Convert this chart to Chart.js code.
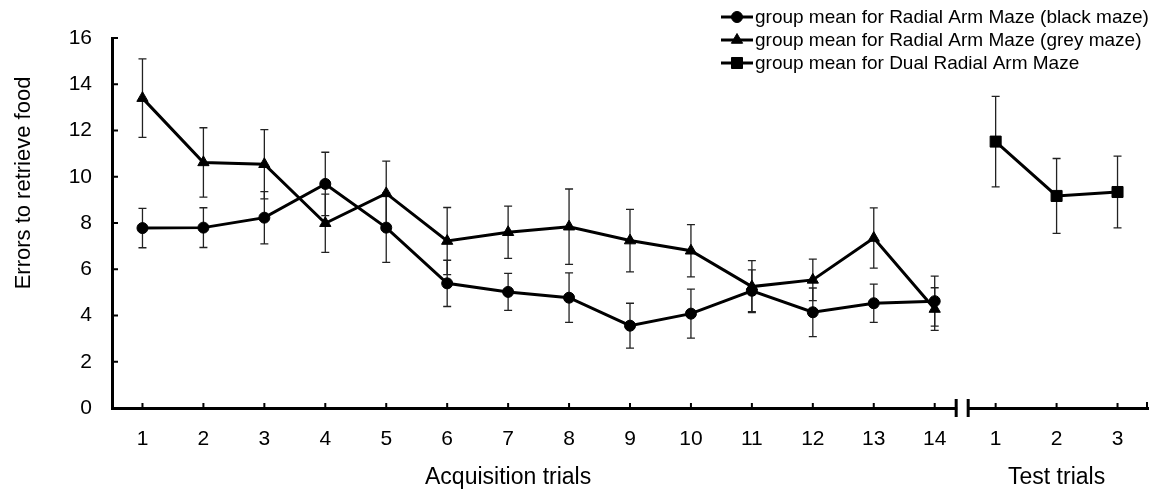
<!DOCTYPE html>
<html>
<head>
<meta charset="utf-8">
<script src="https://cdn.jsdelivr.net/npm/chart.js@4.4.1/dist/chart.umd.min.js"></script>
<style>
  body { margin: 0; background: #fff; }
  #wrap { width: 1168px; height: 500px; }
</style>
</head>
<body>
<div id="wrap"><canvas id="maze-chart"></canvas></div>
<script>
// trials
const acqTrials = ["1", "2", "3", "4", "5", "6", "7", "8", "9", "10", "11", "12", "13", "14"];
const testTrials = ["1", "2", "3"];

// group means
const blackMaze = [7.78, 7.8, 8.23, 9.69, 7.8, 5.39, 5.02, 4.77, 3.56, 4.08, 5.07, 4.14, 4.53, 4.62];
const greyMaze = [13.4, 10.62, 10.54, 7.99, 9.28, 7.22, 7.6, 7.84, 7.24, 6.8, 5.25, 5.54, 7.35, 4.28];
const dualMaze = [11.52, 9.17, 9.34];

// error bars (+/-)
const blackErr = [0.85, 0.86, 1.13, 1.37, 1.5, 1.0, 0.8, 1.07, 0.97, 1.06, 0.9, 1.05, 0.83, 1.08];
const greyErr = [1.7, 1.5, 1.5, 1.26, 1.4, 1.45, 1.13, 1.63, 1.35, 1.13, 1.12, 0.9, 1.3, 0.92];
const dualErr = [1.96, 1.62, 1.55];

const legendNames = [
    "group mean for Radial Arm Maze (black maze)",
    "group mean for Radial Arm Maze (grey maze)",
    "group mean for Dual Radial Arm Maze",
];

const FONT = "'Liberation Sans', Arial, sans-serif";
const pad = (n) => new Array(n).fill(null);

const labels = [...acqTrials, ...testTrials];
const errs = [
    [...blackErr, ...pad(testTrials.length)],
    [...greyErr, ...pad(testTrials.length)],
    [...pad(acqTrials.length), ...dualErr],
];

const decor = {
    id: "decor",
    beforeDatasetsDraw(chart) {
        const { ctx, scales: { x, y } } = chart;
        ctx.save();
        ctx.strokeStyle = "#222";
        ctx.lineWidth = 1.3;
        chart.data.datasets.forEach((ds, di) => {
            ds.data.forEach((v, i) => {
                const e = errs[di][i];
                if (v == null || e == null) return;
                const px = x.getPixelForValue(i);
                const top = y.getPixelForValue(v + e);
                const bot = y.getPixelForValue(v - e);
                ctx.beginPath();
                ctx.moveTo(px, top); ctx.lineTo(px, bot);
                ctx.moveTo(px - 4, top); ctx.lineTo(px + 4, top);
                ctx.moveTo(px - 4, bot); ctx.lineTo(px + 4, bot);
                ctx.stroke();
            });
        });
        ctx.restore();
    },
    afterDraw(chart) {
        const { ctx, chartArea: a, scales: { x, y } } = chart;
        ctx.save();
        ctx.strokeStyle = "#000";
        ctx.fillStyle = "#000";
        ctx.lineWidth = 2;

        // inward ticks
        ctx.beginPath();
        y.ticks.forEach((t) => {
            const py = y.getPixelForValue(t.value);
            ctx.moveTo(a.left, py); ctx.lineTo(a.left + 6, py);
        });
        labels.forEach((l, i) => {
            const px = x.getPixelForValue(i);
            ctx.moveTo(px, a.bottom); ctx.lineTo(px, a.bottom - 5);
        });
        ctx.moveTo(a.right - 1, a.bottom); ctx.lineTo(a.right - 1, a.bottom - 6);
        ctx.stroke();

        // axis break
        const mid = (x.getPixelForValue(acqTrials.length - 1) + x.getPixelForValue(acqTrials.length)) / 2 - 3;
        ctx.fillStyle = "#fff";
        ctx.fillRect(mid - 5, a.bottom - 4, 10, 8);
        ctx.lineWidth = 3;
        ctx.beginPath();
        ctx.moveTo(mid - 6, a.bottom - 9); ctx.lineTo(mid - 6, a.bottom + 9);
        ctx.moveTo(mid + 6, a.bottom - 9); ctx.lineTo(mid + 6, a.bottom + 9);
        ctx.stroke();

        // axis titles
        ctx.fillStyle = "#000";
        ctx.font = "23px " + FONT;
        ctx.textAlign = "center";
        ctx.textBaseline = "middle";
        ctx.fillText("Acquisition trials", x.getPixelForValue(6), 478);
        ctx.fillText("Test trials", x.getPixelForValue(acqTrials.length + 1), 478);
        ctx.font = "22px " + FONT;
        ctx.save();
        ctx.translate(24, 183);
        ctx.rotate(-Math.PI / 2);
        ctx.fillText("Errors to retrieve food", 0, 0);
        ctx.restore();

        // legend
        ctx.font = "19px " + FONT;
        ctx.textAlign = "left";
        chart.data.datasets.forEach((ds, i) => {
            const ly = 17 + i * 23;
            ctx.lineWidth = 3;
            ctx.strokeStyle = "#000";
            ctx.beginPath();
            ctx.moveTo(721, ly); ctx.lineTo(753, ly);
            ctx.stroke();
            ctx.lineWidth = 1;
            Chart.helpers.drawPoint(ctx, {
                pointStyle: ds.pointStyle, radius: ds.pointRadius, rotation: 0, borderWidth: 1,
            }, 737, ly);
            ctx.fillStyle = "#000";
            ctx.fillText(legendNames[i], 755, ly + 1);
        });
        ctx.restore();
    },
};

const line = (data, style, r) => ({
    data,
    pointStyle: style,
    pointRadius: r,
    pointHoverRadius: r,
    borderColor: "#000",
    backgroundColor: "#000",
    pointBackgroundColor: "#000",
    pointBorderColor: "#000",
    borderWidth: 3,
    pointBorderWidth: 1,
    tension: 0,
    spanGaps: false,
});

new Chart(document.getElementById("maze-chart"), {
    type: "line",
    data: {
        labels,
        datasets: [
            line([...blackMaze, ...pad(testTrials.length)], "circle", 5.5),
            line([...greyMaze, ...pad(testTrials.length)], "triangle", 6.5),
            line([...pad(acqTrials.length), ...dualMaze], "rect", 7.8),
        ],
    },
    options: {
        responsive: true,
        maintainAspectRatio: false,
        animation: false,
        layout: { padding: { left: 0, right: 20, top: 38, bottom: 0 } },
        plugins: { legend: { display: false }, tooltip: { enabled: false } },
        scales: {
            x: {
                type: "category",
                offset: true,
                grid: { display: false },
                border: { color: "#000", width: 3 },
                ticks: { color: "#000", font: { size: 21, family: FONT }, padding: 11, maxRotation: 0, autoSkip: false },
                afterFit: (s) => { s.height = 92; },
            },
            y: {
                min: 0,
                max: 16,
                grid: { display: false },
                border: { color: "#000", width: 3 },
                ticks: { stepSize: 2, color: "#000", font: { size: 21, family: FONT }, padding: 12 },
                afterFit: (s) => { s.width = 112; },
            },
        },
    },
    plugins: [decor],
});
</script>
</body>
</html>
